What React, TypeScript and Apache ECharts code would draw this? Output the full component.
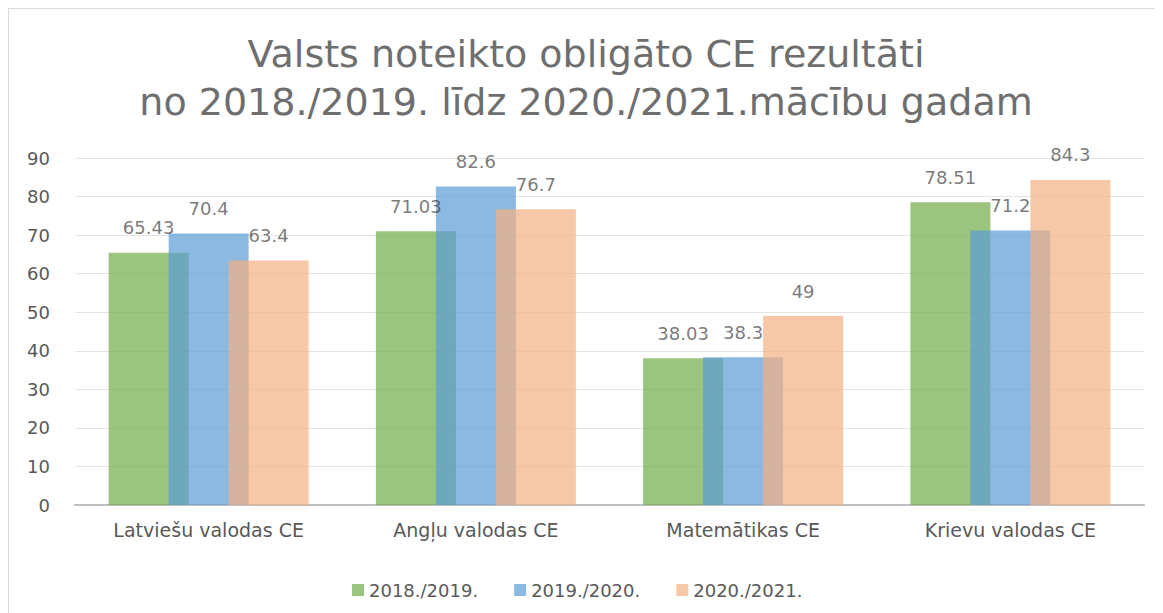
import React, { useEffect, useRef } from "react";
import * as echarts from "echarts";

const titleLines = [
  "Valsts noteikto obligāto CE rezultāti",
  "no 2018./2019. līdz 2020./2021.mācību gadam",
];
const categories = [
  "Latviešu valodas CE",
  "Angļu valodas CE",
  "Matemātikas CE",
  "Krievu valodas CE",
];
const seriesNames = ["2018./2019.", "2019./2020.", "2020./2021."];
const values2018 = [65.43, 71.03, 38.03, 78.51];
const values2019 = [70.4, 82.6, 38.3, 71.2];
const values2020 = [63.4, 76.7, 49, 84.3];
const seriesColors = ["#70AD47", "#5B9BD5", "#F4B183"];

const FONT = "DejaVu Sans";

export default function App() {
  const ref = useRef<HTMLDivElement>(null);
  useEffect(() => {
    if (!ref.current) return;
    const chart = echarts.init(ref.current, undefined, { renderer: "svg" });
    const allValues = [values2018, values2019, values2020];
    chart.setOption({
      animation: false,
      backgroundColor: "#ffffff",
      title: {
        text: titleLines.join("\n"),
        left: "center",
        top: 16,
        textStyle: {
          fontFamily: FONT,
          fontSize: 38,
          fontWeight: "normal",
          color: "#6e6e6e",
          lineHeight: 48,
        },
      },
      legend: {
        left: 338,
        top: 567,
        itemWidth: 12,
        itemHeight: 12,
        itemGap: 36,
        icon: "rect",
        textStyle: { fontFamily: FONT, fontSize: 18, color: "#595959" },
        data: seriesNames,
      },
      grid: { left: 66, right: 19, top: 149, bottom: 108, containLabel: false },
      xAxis: {
        type: "category",
        data: categories,
        axisLine: { lineStyle: { color: "#bfbfbf", width: 2 } },
        axisTick: { show: false },
        axisLabel: { fontFamily: FONT, fontSize: 19, color: "#595959", margin: 15 },
      },
      yAxis: {
        type: "value",
        min: 0,
        max: 90,
        interval: 10,
        axisLine: { show: false },
        axisTick: { show: false },
        axisLabel: { fontFamily: FONT, fontSize: 18, color: "#595959", margin: 25 },
        splitLine: { lineStyle: { color: "#e5e5e5", width: 1 } },
      },
      series: seriesNames.map((name, i) => ({
        name,
        type: "bar",
        data: allValues[i],
        barWidth: 80,
        barGap: "-25%",
        itemStyle: { color: seriesColors[i], opacity: 0.7 },
        label: {
          show: true,
          position: "top",
          distance: 16,
          fontFamily: FONT,
          fontSize: 18,
          color: "#404040",
        },
      })),
    });
    return () => chart.dispose();
  }, []);
  return (
    <div
      style={{
        width: 1155,
        height: 605,
        borderLeft: "1px solid #d9d9d9",
        borderTop: "1px solid #d9d9d9",
        overflow: "hidden",
      }}
    >
      <div ref={ref} style={{ width: 1154, height: 604 }} />
    </div>
  );
}
